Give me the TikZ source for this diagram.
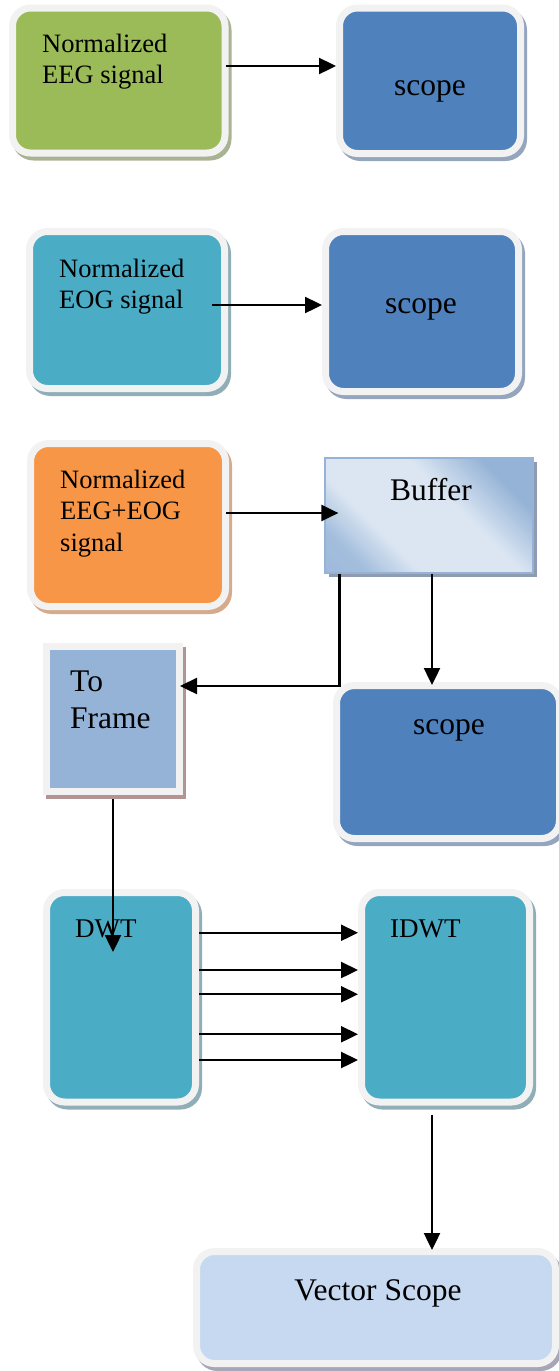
\documentclass[tikz,border=0pt]{standalone}
\usepackage{fontspec}
\setmainfont{Liberation Serif}
\usetikzlibrary{arrows.meta}
\definecolor{framegrey}{HTML}{F2F2F2}
\definecolor{eegg}{HTML}{9BBB59}\definecolor{eegsh}{HTML}{A9B393}
\definecolor{scb}{HTML}{4F81BD}\definecolor{scbsh}{HTML}{95A5BD}
\definecolor{teal}{HTML}{4BACC6}\definecolor{tealsh}{HTML}{8FAEB8}
\definecolor{orng}{HTML}{F79646}\definecolor{orngsh}{HTML}{D6AA8C}
\definecolor{tfb}{HTML}{95B3D7}\definecolor{tfbsh}{HTML}{B39494}
\definecolor{vsc}{HTML}{C6D9F1}\definecolor{vscsh}{HTML}{A9A5B9}
\definecolor{buflight}{HTML}{DCE6F2}\definecolor{bufdark}{HTML}{95B3D7}\definecolor{bufsh}{HTML}{8E9BB0}
\pgfdeclarehorizontalshading{bufshade}{100bp}{color(0bp)=(bufdark); color(24bp)=(bufdark!80!buflight); color(36bp)=(buflight); color(58bp)=(buflight); color(74bp)=(bufdark); color(100bp)=(bufdark)}
\begin{document}
\begin{tikzpicture}[x=1pt,y=-1pt,
  box/.style 2 args={rounded corners=18pt, draw=framegrey, line width=7pt, fill=#1, inner sep=0pt,
     preaction={draw=#2, fill=#2, transform canvas={shift={(3pt,-4pt)}}}},
  sqbox/.style 2 args={draw=framegrey, line width=7pt, fill=#1, inner sep=0pt,
     preaction={draw=#2, fill=#2, transform canvas={shift={(3pt,-4pt)}}}},
  txt/.style={font=\fontsize{26.5}{31.5}\selectfont, align=left, inner sep=0pt, anchor=base west},
  big/.style={font=\fontsize{31.5}{37}\selectfont, align=left, inner sep=0pt, anchor=base},
  arr/.style={draw=black, line width=2.4pt, -{Triangle[length=17pt,width=16pt]}}]
\useasboundingbox (0,0) rectangle (559,1371);

% boxes
\node[box={eegg}{eegsh}, minimum width=212.5pt, minimum height=145pt] (eeg) at (118.75,80.5) {};
\node[box={scb}{scbsh}, minimum width=181pt, minimum height=145.5pt] (scope1) at (430,80.75) {};
\node[box={teal}{tealsh}, minimum width=195pt, minimum height=157pt] (eog) at (127,310) {};
\node[box={scb}{scbsh}, minimum width=193pt, minimum height=160pt] (scope2) at (422,311.5) {};
\node[box={orng}{orngsh}, minimum width=195pt, minimum height=163pt] (mix) at (128,525) {};
\node[draw=bufdark, line width=1.2pt, shading=bufshade, shading angle=45, inner sep=0pt,
      minimum width=208pt, minimum height=115pt,
      preaction={fill=bufsh, transform canvas={shift={(4pt,-4pt)}}}] (buffer) at (429,515.5) {};
\node[sqbox={tfb}{tfbsh}, minimum width=133pt, minimum height=145pt] (toframe) at (113,719) {};
\node[box={scb}{scbsh}, minimum width=223pt, minimum height=153pt] (scope3) at (448,762) {};
\node[box={teal}{tealsh}, minimum width=149pt, minimum height=209.5pt] (dwt) at (121,997.25) {};
\node[box={teal}{tealsh}, minimum width=168pt, minimum height=209.5pt] (idwt) at (445.5,997.25) {};
\node[box={vsc}{vscsh}, minimum width=359pt, minimum height=112pt] (vscope) at (376,1307.5) {};

% texts (base anchor = baseline of the last line)
\node[txt] (teeg) at (42,83.5) {Normalized\\EEG signal};
\node[big] (ts1) at (430,95) {scope};
\node[txt] (teog) at (59,308.5) {Normalized\\EOG signal};
\node[big] (ts2) at (421,313) {scope};
\node[txt] (tmix) at (60,551) {Normalized\\EEG+EOG\\signal};
\node[big] (tbuf) at (431,500) {Buffer};
\node[big, anchor=base west] (ttf) at (70,728) {To\\Frame};
\node[big] (ts3) at (449,734) {scope};
\node[txt, font=\fontsize{27}{32}\selectfont] (tdwt) at (75,937) {DWT};
\node[txt, font=\fontsize{27}{32}\selectfont] (tidwt) at (390,937) {IDWT};
\node[big] (tvs) at (378,1300) {Vector Scope};

% connectors
\coordinate (a1) at ([xshift=-3pt,yshift=14.5pt]eeg.east);
\draw[arr] (a1) -- (a1 -| scope1.west);
\coordinate (a2) at ([xshift=-16pt,yshift=5pt]eog.east);
\draw[arr] (a2) -- (a2 -| scope2.west);
\coordinate (a3) at ([xshift=-3pt,yshift=12pt]mix.east);
\coordinate (a3e) at ([xshift=14pt]buffer.west);
\draw[arr] (a3) -- (a3 -| a3e);
\coordinate (b1) at ([xshift=15pt]buffer.south west);
\coordinate (t1) at ([xshift=-3pt,yshift=33pt]toframe.east);
\draw[arr] (b1) |- (t1);
\coordinate (b2) at ([xshift=3pt]buffer.south);
\coordinate (s3) at ([yshift=-3pt]scope3.north);
\draw[arr] (b2) -- (b2 |- s3);
\coordinate (f1) at ([yshift=-4pt]toframe.south);
\coordinate (d1) at ([yshift=-63pt]dwt.north);
\draw[arr] (f1) -- (f1 |- d1);
\foreach \d [count=\i] in {64.5,27.25,3,-37,-62.75} {
  \coordinate (o\i) at ([yshift=\d pt]dwt.east);
  \draw[arr] (o\i) -- (o\i -| idwt.west);
}
\coordinate (i1) at ([xshift=-13.5pt,yshift=-9pt]idwt.south);
\coordinate (v1) at ([yshift=-2pt]vscope.north);
\draw[arr] (i1) -- (i1 |- v1);
\end{tikzpicture}
\end{document}
